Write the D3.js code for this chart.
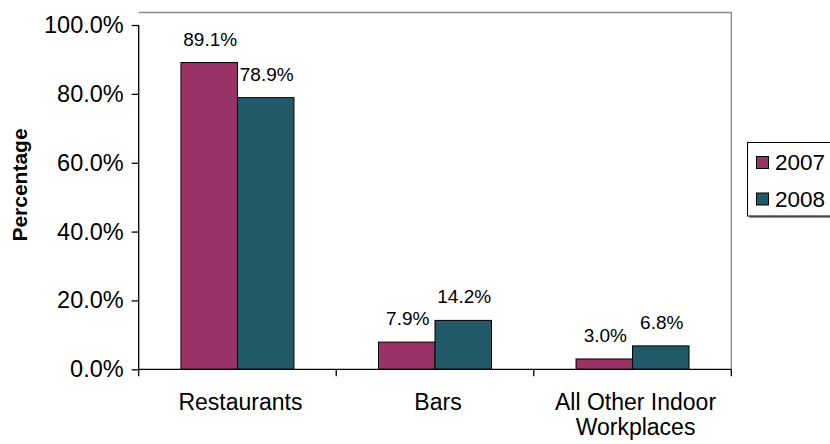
<!DOCTYPE html>
<html lang="en">
<head>
    <meta charset="UTF-8">
    <script src="https://cdn.jsdelivr.net/npm/d3@7"></script>
    <style>
        body { margin: 0; background: #fff; }
        svg text { font-family: "Liberation Sans", Arial, sans-serif; fill: #000; }
    </style>
</head>
<body>
<svg width="830" height="444"></svg>
<script>
    var categories = [["Restaurants"], ["Bars"], ["All Other Indoor", "Workplaces"]];
    var series = ["2007", "2008"];
    var values2007 = [0.891, 0.079, 0.030];
    var values2008 = [0.789, 0.142, 0.068];
    var yTicks = [0, 0.2, 0.4, 0.6, 0.8, 1.0];
    var colors = ["#993366", "#215968"];

    var svg = d3.select("svg");
    var plot = {left: 138.7, right: 731.3, top: 25, bottom: 369.3};

    var x = d3.scaleBand()
        .domain(d3.range(categories.length))
        .range([plot.left, plot.right])
        .paddingInner(0.428)
        .paddingOuter(0.214);
    var xs = d3.scaleBand()
        .domain(series)
        .range([0, x.bandwidth()]);
    var y = d3.scaleLinear()
        .domain([0, 1])
        .range([plot.bottom, plot.top]);
    var fmt = d3.format(".1%");

    // plot area border (top / right grey)
    svg.append("path")
        .attr("d", "M" + plot.left + "," + 12.5 + "H" + plot.right + "V" + plot.bottom)
        .attr("fill", "none")
        .attr("stroke", "#8c8c8c")
        .attr("stroke-width", 1.3);

    // bars
    var data = [];
    categories.forEach(function (c, i) {
        data.push({i: i, s: "2007", v: values2007[i], c: colors[0]});
        data.push({i: i, s: "2008", v: values2008[i], c: colors[1]});
    });

    svg.selectAll("rect.bar")
        .data(data)
        .enter()
        .append("rect")
        .attr("class", "bar")
        .attr("x", function (d) { return x(d.i) + xs(d.s); })
        .attr("y", function (d) { return y(d.v); })
        .attr("width", xs.bandwidth())
        .attr("height", function (d) { return plot.bottom - y(d.v); })
        .attr("fill", function (d) { return d.c; })
        .attr("stroke", "#000")
        .attr("stroke-width", 1);

    svg.selectAll("text.lbl")
        .data(data)
        .enter()
        .append("text")
        .attr("class", "lbl")
        .attr("x", function (d) { return x(d.i) + xs(d.s) + xs.bandwidth() / 2 + 1; })
        .attr("y", function (d) { return y(d.v) - 17; })
        .attr("text-anchor", "middle")
        .style("font-size", "19px")
        .text(function (d) { return fmt(d.v); });

    // y axis
    var yAxis = d3.axisLeft(y)
        .tickValues(yTicks)
        .tickSize(7)
        .tickPadding(8)
        .tickFormat(fmt);
    var gy = svg.append("g")
        .attr("transform", "translate(" + plot.left + ",0)")
        .call(yAxis);
    gy.select(".domain").attr("stroke", "#000").attr("stroke-width", 1.3)
        .attr("d", "M0," + plot.top + "V" + plot.bottom);
    gy.selectAll(".tick line").attr("stroke", "#000").attr("stroke-width", 1.3);
    gy.selectAll(".tick text")
        .style("font-size", "23.5px")
        .style("font-family", "Liberation Sans, Arial, sans-serif")
        .attr("fill", "#000");

    // x axis: line + ticks at category boundaries
    svg.append("line")
        .attr("x1", plot.left).attr("x2", plot.right)
        .attr("y1", plot.bottom).attr("y2", plot.bottom)
        .attr("stroke", "#000").attr("stroke-width", 1.3);
    svg.selectAll("line.xtick")
        .data(d3.range(categories.length + 1))
        .enter()
        .append("line")
        .attr("class", "xtick")
        .attr("x1", function (d) { return plot.left + d * x.step(); })
        .attr("x2", function (d) { return plot.left + d * x.step(); })
        .attr("y1", plot.bottom)
        .attr("y2", plot.bottom + 7)
        .attr("stroke", "#000").attr("stroke-width", 1.3);

    var xl = svg.selectAll("text.cat")
        .data(categories)
        .enter()
        .append("text")
        .attr("class", "cat")
        .attr("text-anchor", "middle")
        .attr("y", 410)
        .style("font-size", "23px");
    xl.selectAll("tspan")
        .data(function (d, i) { return d.map(function (t) { return {t: t, i: i}; }); })
        .enter()
        .append("tspan")
        .attr("x", function (d) { return x(d.i) + x.bandwidth() / 2 + 3; })
        .attr("dy", function (d, j) { return j === 0 ? 0 : 25.3; })
        .text(function (d) { return d.t; });

    // axis title
    svg.append("text")
        .attr("transform", "translate(26.5,185) rotate(-90)")
        .attr("text-anchor", "middle")
        .style("font-size", "21px")
        .style("font-weight", "bold")
        .text("Percentage");

    // legend
    var legend = svg.append("g");
    legend.append("rect")
        .attr("x", 749.5).attr("y", 144.5)
        .attr("width", 100).attr("height", 73.5)
        .attr("fill", "#8c8c8c");
    legend.append("rect")
        .attr("x", 747.5).attr("y", 142.5)
        .attr("width", 100).attr("height", 73.5)
        .attr("fill", "#fff")
        .attr("stroke", "#000")
        .attr("stroke-width", 1);
    var li = legend.selectAll("g.item")
        .data(series)
        .enter()
        .append("g")
        .attr("transform", function (d, i) { return "translate(0," + (i * 36.5) + ")"; });
    li.append("rect")
        .attr("x", 756.5).attr("y", 156.5)
        .attr("width", 12).attr("height", 12)
        .attr("fill", function (d, i) { return colors[i]; })
        .attr("stroke", "#000")
        .attr("stroke-width", 1);
    li.append("text")
        .attr("x", 775)
        .attr("y", 170)
        .style("font-size", "22.5px")
        .text(function (d) { return d; });
</script>
</body>
</html>
